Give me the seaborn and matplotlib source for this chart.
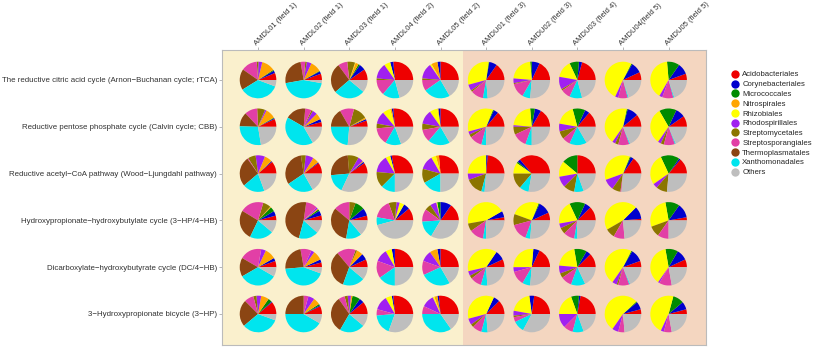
import numpy as np
import pandas as pd
import matplotlib
matplotlib.use("Agg")
import matplotlib.pyplot as plt
from matplotlib.lines import Line2D
import seaborn as sns

# Samples (columns) and carbon-fixation pathways (rows)
samples = ["AMDL01 (field 1)", "AMDL02 (field 1)", "AMDL03 (field 1)",
           "AMDL04 (field 2)", "AMDL05 (field 2)", "AMDU01 (field 3)",
           "AMDU02 (field 3)", "AMDU03 (field 4)", "AMDU04(field 5)",
           "AMDU05 (field 5)"]
pathways = ["The reductive citric acid cycle (Arnon\u2212Buchanan cycle; rTCA)",
            "Reductive pentose phosphate cycle (Calvin cycle; CBB)",
            "Reductive acetyl\u2212CoA pathway (Wood\u2212Ljungdahl pathway)",
            "Hydroxypropionate\u2212hydroxybutylate cycle (3\u2212HP/4\u2212HB)",
            "Dicarboxylate\u2212hydroxybutyrate cycle (DC/4\u2212HB)",
            "3\u2212Hydroxypropionate bicycle (3\u2212HP)"]
taxa = ["Acidobacteriales", "Corynebacteriales", "Micrococcales",
        "Nitrospirales", "Rhizobiales", "Rhodospirillales",
        "Streptomycetales", "Streptosporangiales", "Thermoplasmatales",
        "Xanthomonadales", "Others"]
taxa_colors = ["#EE0000", "#0000CD", "#008B00", "#FFA500", "#FFFF00",
               "#A020F0", "#8B7500", "#E23FA6", "#8B4513", "#00E5EE",
               "#BEBEBE"]

# Relative contributions of each order per sample (one row per sample,
# values in taxa order)
rtca = [[22, 8, 3, 42, 0, 12, 5, 50, 65, 125, 20],
        [20, 8, 2, 35, 0, 15, 5, 15, 90, 160, 10],
        [35, 20, 5, 10, 2, 0, 25, 30, 95, 100, 40],
        [95, 10, 0, 0, 20, 50, 5, 50, 0, 55, 75],
        [90, 10, 0, 20, 5, 50, 5, 35, 0, 85, 60],
        [55, 25, 2, 0, 113, 20, 5, 40, 0, 15, 85],
        [65, 25, 5, 0, 80, 15, 3, 47, 0, 25, 95],
        [75, 10, 30, 0, 55, 40, 5, 30, 0, 40, 75],
        [25, 35, 3, 0, 182, 10, 0, 30, 0, 3, 72],
        [20, 35, 40, 0, 145, 10, 0, 35, 0, 3, 72]]
cbb = [[25, 3, 2, 32, 0, 5, 25, 40, 45, 100, 80],
       [15, 10, 0, 20, 0, 15, 5, 20, 65, 150, 60],
       [20, 5, 0, 5, 0, 0, 45, 45, 60, 85, 95],
       [95, 5, 0, 5, 25, 40, 15, 55, 0, 50, 70],
       [90, 7, 0, 3, 25, 45, 20, 40, 0, 70, 60],
       [50, 15, 3, 0, 127, 10, 10, 40, 0, 15, 90],
       [60, 20, 15, 0, 80, 5, 25, 45, 0, 20, 90],
       [50, 15, 40, 0, 65, 25, 25, 25, 0, 55, 60],
       [40, 35, 3, 0, 157, 10, 10, 35, 0, 3, 67],
       [35, 30, 55, 0, 115, 10, 10, 35, 0, 3, 67]]
wl = [[40, 3, 0, 25, 0, 30, 25, 3, 95, 70, 70],
      [35, 3, 0, 20, 0, 25, 15, 0, 115, 85, 60],
      [35, 5, 0, 3, 0, 17, 35, 0, 90, 60, 115],
      [100, 5, 0, 0, 15, 55, 50, 0, 0, 45, 90],
      [95, 0, 0, 10, 15, 45, 45, 0, 0, 60, 90],
      [85, 5, 0, 0, 90, 20, 55, 0, 0, 10, 95],
      [130, 10, 5, 0, 35, 0, 50, 0, 0, 30, 100],
      [90, 0, 50, 0, 50, 35, 35, 0, 0, 30, 70],
      [55, 10, 3, 0, 132, 35, 27, 3, 0, 0, 95],
      [50, 5, 60, 0, 100, 15, 35, 0, 0, 0, 95]]
hp_hb = [[15, 15, 15, 3, 0, 0, 25, 75, 95, 75, 40],
         [15, 15, 5, 3, 0, 5, 0, 35, 165, 60, 40],
         [15, 25, 30, 0, 0, 0, 20, 50, 120, 50, 50],
         [40, 20, 0, 0, 15, 10, 25, 60, 0, 25, 165],
         [55, 35, 10, 0, 3, 20, 20, 40, 0, 55, 120],
         [10, 20, 0, 0, 160, 0, 25, 45, 0, 10, 90],
         [25, 40, 3, 0, 92, 0, 35, 55, 0, 15, 95],
         [45, 20, 50, 0, 75, 15, 20, 35, 0, 10, 90],
         [5, 40, 0, 0, 165, 0, 30, 35, 0, 0, 85],
         [10, 45, 45, 0, 100, 0, 35, 35, 0, 0, 90]]
dc_hb = [[20, 10, 0, 35, 0, 15, 0, 70, 60, 120, 30],
         [15, 10, 0, 30, 0, 10, 0, 35, 85, 155, 20],
         [25, 20, 0, 20, 0, 0, 5, 60, 120, 70, 40],
         [90, 10, 0, 0, 20, 40, 0, 55, 0, 55, 90],
         [90, 10, 0, 25, 0, 35, 0, 45, 0, 95, 60],
         [25, 30, 0, 0, 135, 15, 10, 35, 0, 20, 85],
         [65, 20, 0, 0, 95, 15, 0, 45, 0, 25, 95],
         [45, 15, 40, 0, 75, 25, 15, 35, 0, 45, 65],
         [20, 40, 3, 0, 172, 15, 5, 35, 0, 3, 67],
         [25, 35, 40, 0, 135, 5, 0, 40, 0, 0, 80]]
hp3 = [[40, 3, 12, 25, 0, 15, 10, 30, 85, 120, 20],
       [25, 3, 5, 22, 0, 20, 0, 15, 90, 150, 30],
       [40, 15, 25, 5, 0, 10, 10, 20, 115, 80, 40],
       [95, 5, 0, 0, 20, 45, 0, 20, 0, 65, 110],
       [95, 5, 0, 10, 5, 40, 0, 25, 0, 125, 55],
       [45, 20, 0, 0, 130, 20, 10, 30, 0, 20, 85],
       [80, 15, 0, 0, 70, 15, 5, 15, 0, 35, 115],
       [80, 5, 25, 0, 70, 45, 0, 30, 0, 35, 70],
       [15, 25, 3, 0, 192, 20, 0, 20, 0, 0, 85],
       [15, 25, 35, 0, 170, 10, 0, 25, 0, 0, 80]]

pathway_tables = [rtca, cbb, wl, hp_hb, dc_hb, hp3]

# Long-format table
records = []
for p_idx, table in enumerate(pathway_tables):
    for s_idx, row in enumerate(table):
        for t_idx, v in enumerate(row):
            records.append((pathways[p_idx], samples[s_idx], taxa[t_idx], v))
df = pd.DataFrame(records, columns=["pathway", "sample", "taxon", "value"])

sns.set_theme(style="white")
plt.rcParams["font.family"] = ["Liberation Sans", "DejaVu Sans"]
palette = sns.color_palette(taxa_colors)

W, H = 818, 350
fig = plt.figure(figsize=(W / 100, H / 100), dpi=100)
left, right, top, bottom = 222, 706, 50, 345
ax = fig.add_axes([left / W, 1 - bottom / H, (right - left) / W, (bottom - top) / H])

xlim = (0.21, 10.82)
unit_px = (right - left) / (xlim[1] - xlim[0])
row_step = 46.8 / unit_px
ylim = (-31 / unit_px, 5 * row_step + 30 / unit_px)
radius = 18.3 / unit_px

x_pos = {s: i + 1 for i, s in enumerate(samples)}
y_pos = {p: (len(pathways) - 1 - i) * row_step for i, p in enumerate(pathways)}

# Field backgrounds: lowland vs upland samples
ax.axvspan(xlim[0], 5.5, facecolor="#FAF0CD", edgecolor="none", zorder=0)
ax.axvspan(5.5, xlim[1], facecolor="#F4D6C0", edgecolor="none", zorder=0)

for (pw, smp), g in df.groupby(["pathway", "sample"], sort=False):
    g = g.set_index("taxon").loc[taxa]
    ax.pie(g["value"].values, colors=palette, startangle=0, counterclock=True,
           center=(x_pos[smp], y_pos[pw]), radius=radius, frame=True,
           wedgeprops=dict(linewidth=0))

ax.set_aspect("auto")
ax.set_xlim(*xlim)
ax.set_ylim(*ylim)

ax.xaxis.tick_top()
ax.set_xticks([x_pos[s] for s in samples])
ax.set_xticklabels(samples, rotation=45, ha="left", va="bottom",
                   rotation_mode="anchor", fontsize=5.5, color="#333333")
ax.set_yticks([y_pos[p] for p in pathways])
ax.set_yticklabels(pathways, fontsize=5.7, color="#333333")
ax.tick_params(axis="both", length=2, width=0.5, color="#999999")
ax.tick_params(axis="x", top=True, bottom=False, pad=0.3)
ax.tick_params(axis="y", left=True, pad=1.5)
for sp in ax.spines.values():
    sp.set_color("#BBBBBB")
    sp.set_linewidth(0.8)

handles = [Line2D([], [], marker="o", ls="", markersize=6,
                  markerfacecolor=c, markeredgewidth=0) for c in taxa_colors]
fig.legend(handles, taxa, loc="upper left", bbox_to_anchor=(731 / W, 1 - 71 / H),
           frameon=False, fontsize=5.6, handletextpad=0.45, labelspacing=0.3,
           handlelength=1.0, borderpad=0, borderaxespad=0)

fig.savefig("out.png", dpi=100)
